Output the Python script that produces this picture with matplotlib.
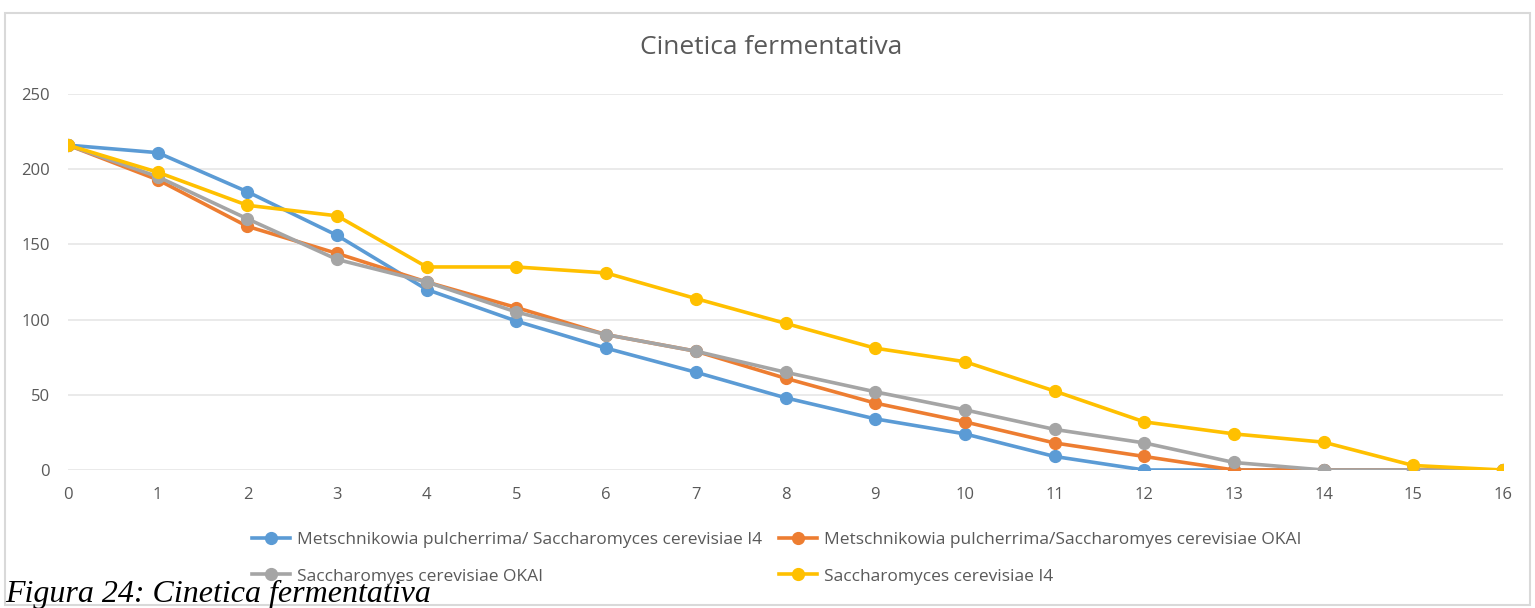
import matplotlib.pyplot as plt
from matplotlib.patches import Rectangle

giorni = list(range(17))
mp_sc_i4 = [216, 211, 185, 156, 120, 99, 81, 65, 48, 34, 24, 9, 0, 0, 0, 0, 0]
mp_sc_okai = [216, 193, 162, 144, 125, 108, 90, 79, 61, 44.5, 32, 18, 9, 0, 0, 0, 0]
sc_okai = [216, 195, 167, 140, 125, 105, 90, 79, 65, 52, 40, 27, 18, 5, 0, 0, 0]
sc_i4 = [216, 198, 176, 169, 135, 135, 131, 114, 97.5, 81, 72, 52.5, 32, 24, 18.5, 3, 0]

etichette = ["Metschnikowia pulcherrima/ Saccharomyces cerevisiae I4",
             "Metschnikowia pulcherrima/Saccharomyes cerevisiae OKAI",
             "Saccharomyes cerevisiae OKAI",
             "Saccharomyces cerevisiae I4"]
colori = ["#5B9BD5", "#ED7D31", "#A5A5A5", "#FFC000"]

plt.rcParams['font.family'] = ['Open Sans', 'DejaVu Sans']

fig = plt.figure(figsize=(15.35, 6.08), dpi=100)
ax = fig.add_axes([68/1535, 1-470/608, (1503-68)/1535, (470-94)/608])

linee = []
for serie, col, lab in zip([mp_sc_i4, mp_sc_okai, sc_okai, sc_i4], colori, etichette):
    l, = ax.plot(giorni, serie, color=col, lw=2.6, marker='o', ms=8.5, label=lab)
    linee.append(l)

ax.set_xlim(0, 16)
ax.set_ylim(0, 250)
ax.set_xticks(giorni)
ax.set_yticks([0, 50, 100, 150, 200, 250])
for s in ax.spines.values():
    s.set_visible(False)
ax.grid(axis='y', color='#e6e6e6', lw=1.2)
ax.set_axisbelow(True)
ax.tick_params(length=0, labelsize=12, labelcolor='#595959')
ax.tick_params(axis='y', pad=13)
ax.tick_params(axis='x', pad=12)

fig.text(771/1535, 1-48/608, "Cinetica fermentativa", fontsize=19, color='#595959',
         ha='center', va='center')

# ordine a righe come nel grafico originale
ordine = [0, 2, 1, 3]
fig.legend([linee[i] for i in ordine], [etichette[i] for i in ordine],
           loc='center', bbox_to_anchor=(0.506, 1-558/608), ncol=2, frameon=False,
           fontsize=12.5, labelcolor='#595959', handlelength=2.2, columnspacing=1,
           labelspacing=1.2, handletextpad=0.4)

fig.patches.append(Rectangle((5/1535, 3/608), 1525/1535, 592/608, transform=fig.transFigure,
                             fill=False, edgecolor='#d9d9d9', lw=1.5))

fig.text(5/1535, 1-602/608, "Figura 24: Cinetica fermentativa", fontsize=23,
         fontfamily='Liberation Serif', style='italic', va='baseline', ha='left')

fig.savefig("out.png", dpi=100)
